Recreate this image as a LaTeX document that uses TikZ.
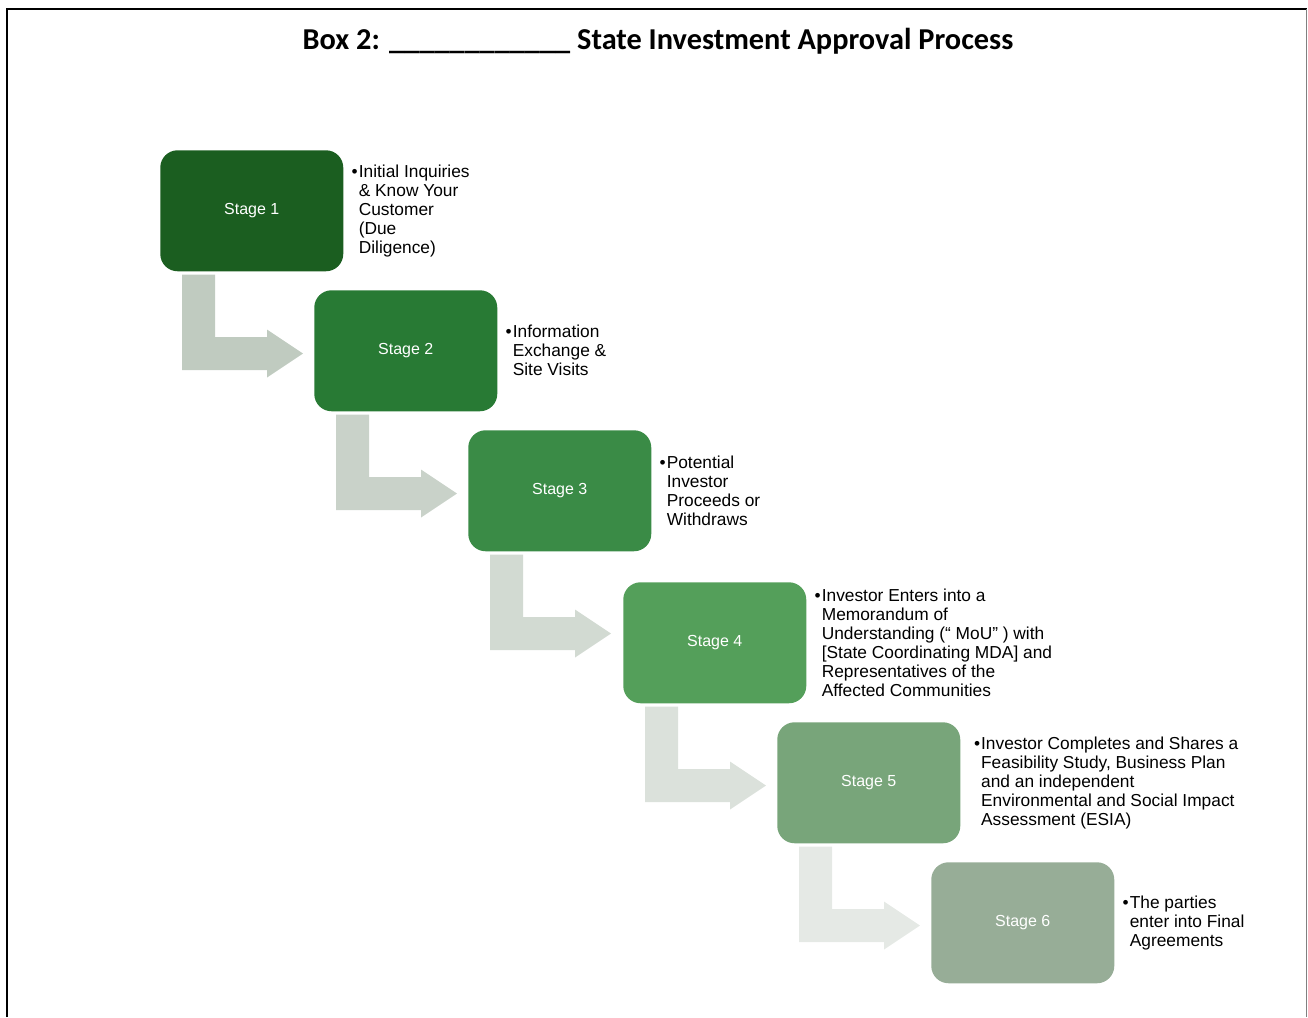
\documentclass[tikz,border=0pt]{standalone}
\usepackage{fontspec}
\setmainfont{Liberation Sans}
\newfontfamily\titlefont{Carlito}
\usetikzlibrary{positioning}

\definecolor{stageA}{HTML}{1B5E20}
\definecolor{stageB}{HTML}{287A34}
\definecolor{stageC}{HTML}{3A8B46}
\definecolor{stageD}{HTML}{549F5A}
\definecolor{stageE}{HTML}{78A57A}
\definecolor{stageF}{HTML}{97AD97}
\definecolor{bendA}{HTML}{C0CBC0}
\definecolor{bendB}{HTML}{C9D2C9}
\definecolor{bendC}{HTML}{D2DAD2}
\definecolor{bendD}{HTML}{DBE1DB}
\definecolor{bendE}{HTML}{E5E9E5}

\tikzset{
  stagebox/.style={rectangle, rounded corners=13pt, anchor=north west,
    minimum width=137.25pt, minimum height=90.75pt, inner sep=0pt,
    text=white, font=\fontsize{12}{14}\selectfont},
  note/.style={right=11.25pt of #1, anchor=west, align=left, inner sep=0pt,
    font=\fontsize{13}{14.25}\selectfont},
}

\newcommand{\pt}{\llap{\textbullet\hspace{0.8pt}}}

\begin{document}
\begin{tikzpicture}[x=0.75pt,y=-0.75pt]
\useasboundingbox (0,0) rectangle (1308,1017);

% frame
\draw[line width=1.8pt] (7,1017) -- (7,9) -- (1306.5,9);
\draw[gray, line width=0.8pt] (1306.5,9) -- (1306.5,1017);

\node[font=\titlefont\bfseries\fontsize{22.75}{26}\selectfont] (title) at (658,41)
  {Box 2: \_\_\_\_\_\_\_\_\_\_\_\_ State Investment Approval Process};

% stages
\node[stagebox, fill=stageA] (s1) at (160,150) {Stage 1};
\node[stagebox, fill=stageB] (s2) at (314,290) {Stage 2};
\node[stagebox, fill=stageC] (s3) at (468,430) {Stage 3};
\node[stagebox, fill=stageD] (s4) at (623,582) {Stage 4};
\node[stagebox, fill=stageE] (s5) at (777,722) {Stage 5};
\node[stagebox, fill=stageF] (s6) at (931,862) {Stage 6};

% bent arrows below each stage
\foreach \s/\c in {s1/bendA, s2/bendB, s3/bendC, s4/bendD, s5/bendE}
  \fill[\c, shift={(\s.south west)}]
    (22,3) -- (55,3) -- (55,65.5) -- (107,65.5) -- (107,58) -- (143,82)
    -- (107,106) -- (107,98.5) -- (22,98.5) -- cycle;

% notes
\node[note=s1] (n1) {\pt Initial Inquiries\\ \& Know Your\\ Customer\\ (Due\\ Diligence)};
\node[note=s2] (n2) {\pt Information\\ Exchange \&\\ Site Visits};
\node[note=s3] (n3) {\pt Potential\\ Investor\\ Proceeds or\\ Withdraws};
\node[note=s4] (n4) {\pt Investor Enters into a\\ Memorandum of\\ Understanding (“ MoU” ) with\\ {[State} Coordinating MDA] and\\ Representatives of the\\ Affected Communities};
\node[note=s5, xshift=4pt] (n5) {\pt Investor Completes and Shares a\\ Feasibility Study, Business Plan\\ and an independent\\ Environmental and Social Impact\\ Assessment (ESIA)};
\node[note=s6] (n6) {\pt The parties\\ enter into Final\\ Agreements};
\end{tikzpicture}
\end{document}
